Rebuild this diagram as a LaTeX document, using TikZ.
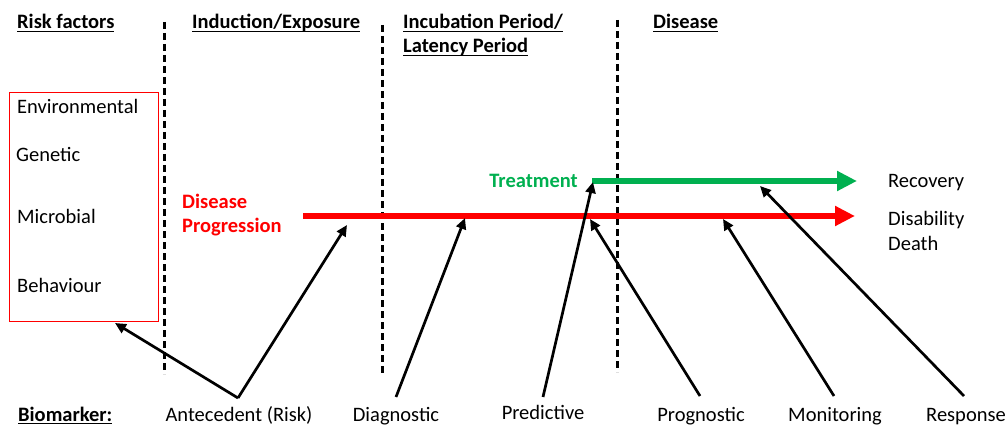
\documentclass[tikz,border=0pt]{standalone}
\usepackage{fontspec}
\setmainfont{Carlito}
\usetikzlibrary{arrows.meta}

\definecolor{progred}{HTML}{FF0000}
\definecolor{treatgreen}{HTML}{00B050}

% underline at a fixed depth below the baseline
\newcommand\hdrline[1]{\setbox0\hbox{#1}\leavevmode\rlap{\rule[-3.4pt]{\wd0}{1.4pt}}\box0}

\begin{document}
\begin{tikzpicture}[x=1pt,y=-1pt,
  txt/.style={inner sep=0pt, font=\fontsize{20.5}{24}\selectfont},
  hdr/.style={txt, anchor=base west, font=\fontsize{20.5}{24}\selectfont\bfseries},
  phase/.style={line width=3pt, dash pattern=on 7pt off 4pt},
  marker/.style={line width=2.7pt, -{Triangle[length=11pt,width=10pt]}},
  track/.style={line width=6pt, -{Triangle[length=20pt,width=19pt]}}]
\useasboundingbox (0,0) rectangle (1007,425);

% column headings
\node[hdr] (hRisk) at (17,29) {\hdrline{Risk factors}};
\node[hdr] (hInd) at (192,29) {\hdrline{Induction/Exposure}};
\node[hdr] (hInc) at (403,29) {\hdrline{Incubation Period/}};
\node[hdr] (hLat) at (403,53) {\hdrline{Latency Period}};
\node[hdr] (hDis) at (653,29) {\hdrline{Disease}};

% phase separators
\coordinate (d1t) at (164,22); \coordinate (d1b) at (164,374);
\coordinate (d2t) at (382,25); \coordinate (d2b) at (382,376);
\coordinate (d3t) at (617,20); \coordinate (d3b) at (617,372);
\draw[phase] (d1t) -- (d1b);
\draw[phase] (d2t) -- (d2b);
\draw[phase] (d3t) -- (d3b);

% risk factor box
\node[draw=progred, line width=1pt, minimum width=149pt, minimum height=229pt,
      inner sep=0pt, anchor=north west] (rfbox) at (9,92) {};
\node[txt, anchor=base west] (env) at (17,114) {Environmental};
\node[txt, anchor=base west] (gen) at (16,161) {Genetic};
\node[txt, anchor=base west] (mic) at (17,223) {Microbial};
\node[txt, anchor=base west] (beh) at (17,292) {Behaviour};

% disease progression and treatment tracks
\node[txt, anchor=base west, text=progred, font=\fontsize{20.5}{24}\selectfont\bfseries] (dp1) at (182,208) {Disease};
\node[txt, anchor=base west, text=progred, font=\fontsize{20.5}{24}\selectfont\bfseries] (dp2) at (182,232) {Progression};
\node[txt, anchor=base east, text=treatgreen, font=\fontsize{20.5}{24}\selectfont\bfseries] (treat) at (578,187) {Treatment};

\coordinate (redS) at (303,216); \coordinate (redE) at (855,216);
\coordinate (grnS) at (592,181); \coordinate (grnE) at (857,181);
\draw[track, progred] (redS) -- (redE);
\draw[track, treatgreen] (grnS) -- (grnE);

\node[txt, anchor=base west] (rec) at (888,187) {Recovery};
\node[txt, anchor=base west] (disab) at (888,225) {Disability};
\node[txt, anchor=base west] (death) at (888,250) {Death};

% biomarker labels
\node[hdr] (bio) at (18,421) {\hdrline{Biomarker:}};
\node[txt, anchor=base] (ant) at (239,421) {Antecedent (Risk)};
\node[txt, anchor=base] (diag) at (396,421) {Diagnostic};
\node[txt, anchor=base] (pred) at (543,419) {Predictive};
\node[txt, anchor=base] (prog) at (701,421) {Prognostic};
\node[txt, anchor=base] (mon) at (835,421) {Monitoring};
\node[txt, anchor=base] (resp) at (966,421) {Response};

% biomarker pointers
\coordinate (antS) at (238,398);
\coordinate (diagS) at (396,397);
\coordinate (predS) at (543,397);
\coordinate (progS) at (700,396);
\coordinate (monS) at (834,396);
\coordinate (respS) at (964,396);

\coordinate (toBox) at (115,323);
\coordinate (toExp) at (347,225);
\coordinate (toDiag) at (465,218);
\coordinate (toTreat) at (593,182);
\coordinate (toProg) at (590,219);
\coordinate (toMon) at (723,219);
\coordinate (toResp) at (760,186);

\draw[marker] (antS) -- (toBox);
\draw[marker] (antS) -- (toExp);
\draw[marker] (diagS) -- (toDiag);
\draw[marker] (predS) -- (toTreat);
\draw[marker] (progS) -- (toProg);
\draw[marker] (monS) -- (toMon);
\draw[marker] (respS) -- (toResp);
\end{tikzpicture}
\end{document}
